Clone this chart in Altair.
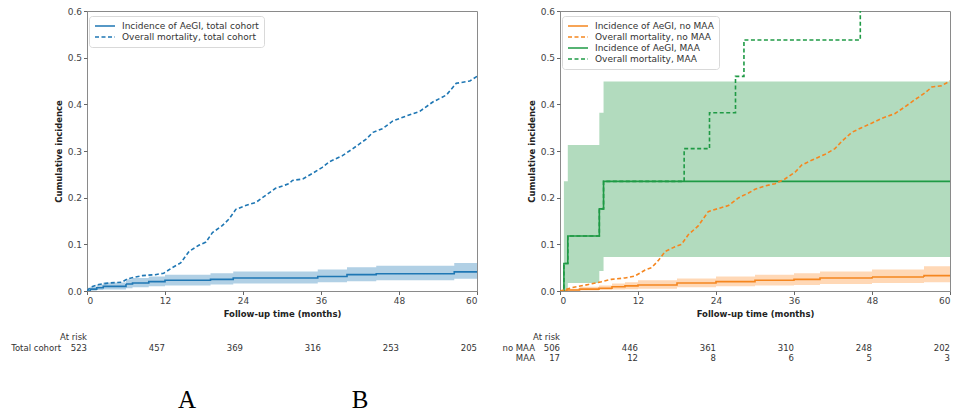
import altair as alt
import pandas as pd

# ---------------- Panel A (total cohort) ----------------
a_inc_t = [0, 0.5, 1.5, 2.5, 6.0, 7.0, 9.5, 12.0, 19.0, 22.5, 35.5, 40.0, 44.5, 56.5, 60]
a_inc_v = [0, 0.004, 0.007, 0.010, 0.015, 0.017, 0.020, 0.023, 0.025, 0.028, 0.031, 0.035, 0.037, 0.041, 0.041]
a_inc_lo = [0, 0.0005, 0.002, 0.003, 0.006, 0.008, 0.010, 0.012, 0.014, 0.016, 0.019, 0.021, 0.023, 0.026, 0.026]
a_inc_hi = [0, 0.009, 0.014, 0.018, 0.025, 0.028, 0.031, 0.035, 0.038, 0.042, 0.046, 0.051, 0.054, 0.060, 0.060]

a_mort_t = [0, 0.5, 1.8, 3.3, 5.4, 6.2, 8.5, 10.5, 11.8, 13.1, 14.4, 15.7, 17.2, 18.3, 19.3, 20.8,
            21.9, 22.9, 24.4, 26.0, 27.5, 29.0, 31.1, 31.6, 33.2, 34.7, 36.2, 37.3, 39.3, 40.9,
            42.9, 44.0, 45.5, 47.0, 49.1, 51.2, 53.2, 55.3, 56.8, 58.9, 60]
a_mort_v = [0, 0.008, 0.014, 0.017, 0.019, 0.026, 0.033, 0.035, 0.038, 0.050, 0.060, 0.085, 0.098,
            0.105, 0.125, 0.140, 0.155, 0.175, 0.183, 0.190, 0.205, 0.220, 0.230, 0.237, 0.240,
            0.252, 0.265, 0.277, 0.290, 0.305, 0.325, 0.340, 0.348, 0.364, 0.375, 0.385, 0.405,
            0.420, 0.445, 0.450, 0.460]

# ---------------- Panel B (no MAA vs MAA) ----------------
b_nm_inc_t = [0, 1, 3, 6, 8, 10, 12, 18, 24, 30, 36, 40, 48, 56, 60]
b_nm_inc_v = [0, 0.002, 0.004, 0.006, 0.009, 0.011, 0.013, 0.017, 0.020, 0.023, 0.025, 0.028, 0.030, 0.033, 0.033]
b_nm_inc_lo = [0, 0, 0.001, 0.002, 0.003, 0.004, 0.005, 0.008, 0.010, 0.012, 0.013, 0.015, 0.017, 0.019, 0.019]
b_nm_inc_hi = [0, 0.005, 0.009, 0.012, 0.016, 0.019, 0.023, 0.027, 0.031, 0.035, 0.038, 0.042, 0.046, 0.053, 0.053]

b_nm_mort_t = [0, 1.8, 4.4, 6.4, 7.9, 10, 11.5, 13.1, 14.1, 15.1, 16.2, 17.7, 18.7, 19.7, 21.3,
               22.8, 24.4, 25.9, 27.5, 29, 30, 31.5, 33.1, 34.6, 36.2, 37.2, 38.7, 40.8, 42.3,
               43.3, 44.9, 46.4, 48, 49.5, 51.5, 53.1, 54.6, 56.2, 57.2, 58.7, 60]
b_nm_mort_v = [0, 0.007, 0.014, 0.020, 0.025, 0.028, 0.032, 0.045, 0.050, 0.065, 0.085, 0.095,
               0.100, 0.120, 0.140, 0.170, 0.177, 0.183, 0.200, 0.210, 0.218, 0.225, 0.230, 0.240,
               0.255, 0.270, 0.280, 0.293, 0.305, 0.320, 0.340, 0.350, 0.360, 0.370, 0.380, 0.395,
               0.410, 0.425, 0.437, 0.440, 0.450]

b_m_inc_t = [0, 0.6, 1.2, 6.05, 6.7, 60]
b_m_inc_v = [0, 0.059, 0.118, 0.176, 0.235, 0.235]
b_m_inc_lo = [0, 0, 0.017, 0.043, 0.073, 0.073]
b_m_inc_hi = [0, 0.235, 0.313, 0.382, 0.449, 0.449]

b_m_mort_t = [0, 0.6, 1.2, 6.05, 6.7, 19.1, 23.0, 27.0, 28.3, 46.2, 60]
b_m_mort_v = [0, 0.059, 0.118, 0.176, 0.235, 0.305, 0.382, 0.460, 0.538, 0.650, 0.650]

# ---------------- At-risk tables ----------------
risk_t = [0, 12, 24, 36, 48, 60]
risk_total = [523, 457, 369, 316, 253, 205]
risk_nomaa = [506, 446, 361, 310, 248, 202]
risk_maa = [17, 12, 8, 6, 5, 3]

# ---------------- Series names / styles ----------------
A_SERIES = ["Incidence of AeGI, total cohort", "Overall mortality, total cohort"]
B_SERIES = ["Incidence of AeGI, no MAA", "Overall mortality, no MAA",
            "Incidence of AeGI, MAA", "Overall mortality, MAA"]
BLUE, ORANGE, GREEN = "#1f77b4", "#f5861f", "#1f9a45"
SOLID, DASH = [1, 0], [4, 2.5]

FONT = "DejaVu Sans"
W, H = 390, 280
RISK_FS = 8.5


def xenc(field):
    return alt.X(f"{field}:Q",
                 scale=alt.Scale(domain=[0, 60], nice=False, zero=False),
                 axis=alt.Axis(values=risk_t, format="d", title="Follow-up time (months)"))


def yenc(field):
    return alt.Y(f"{field}:Q",
                 scale=alt.Scale(domain=[0, 0.6], nice=False),
                 axis=alt.Axis(values=[0, 0.1, 0.2, 0.3, 0.4, 0.5, 0.6], format=".1f",
                               title="Cumulative incidence"))


def legend():
    # long horizontal stroke symbol (20px) that only takes an 8px layout box
    return alt.Legend(title=None, orient="none", legendX=2, legendY=5,
                      symbolType="M-2.5,0H2.5", symbolSize=64, symbolStrokeWidth=1.6,
                      symbolOffset=6,
                      labelFont=FONT, labelFontSize=9, labelColor="#333",
                      fillColor="white", strokeColor="#d9d9d9", padding=5,
                      rowPadding=1, labelOffset=12, cornerRadius=3)


def series_df(t, v, name):
    return pd.DataFrame({"t": t, "v": v, "series": name})


def band(t, lo, hi, color, op):
    df = pd.DataFrame({"t": t, "lo": lo, "hi": hi})
    return alt.Chart(df).mark_area(interpolate="step-after", color=color, opacity=op).encode(
        x=xenc("t"), y=yenc("lo"), y2="hi")


def lines(df, domain, colors, dashes, interp):
    return alt.Chart(df).mark_line(interpolate=interp, strokeWidth=1.6, clip=True).encode(
        x=xenc("t"), y=yenc("v"),
        color=alt.Color("series:N", scale=alt.Scale(domain=domain, range=colors), legend=legend()),
        strokeDash=alt.StrokeDash("series:N", scale=alt.Scale(domain=domain, range=dashes),
                                  legend=legend()))


def text_layer(df, y, align="right", size=RISK_FS, font=FONT, color="#333", xval=None):
    m = alt.Chart(df).mark_text(align=align, baseline="middle", fontSize=size, font=font, color=color)
    if xval is None:
        return m.encode(x=xenc("t"), y=alt.value(y), text="lab:N")
    return m.encode(x=alt.value(xval), y=alt.value(y), text="lab:N")


# ---------------- Panel A ----------------
a_cols = [BLUE, BLUE]
a_dash = [SOLID, DASH]
a_inc_df = series_df(a_inc_t, a_inc_v, A_SERIES[0])
a_mort_df = series_df(a_mort_t, a_mort_v, A_SERIES[1])

panelA = alt.layer(
    band(a_inc_t, a_inc_lo, a_inc_hi, BLUE, 0.35),
    lines(a_inc_df, A_SERIES, a_cols, a_dash, "step-after"),
    lines(a_mort_df, A_SERIES, a_cols, a_dash, "linear"),
    text_layer(pd.DataFrame({"t": [0], "lab": ["At risk"]}), 326),
    text_layer(pd.DataFrame({"lab": ["Total cohort"]}), 337, xval=-26),
    text_layer(pd.DataFrame({"t": risk_t, "lab": [str(n) for n in risk_total]}), 337),
    text_layer(pd.DataFrame({"t": [15.4, 42.0], "lab": ["A", "B"]}), 389, align="center",
               size=25, font="Liberation Serif", color="black"),
).properties(width=W, height=H)

# ---------------- Panel B ----------------
b_cols = [ORANGE, ORANGE, GREEN, GREEN]
b_dash = [SOLID, DASH, SOLID, DASH]
b_step_df = pd.concat([
    series_df(b_nm_inc_t, b_nm_inc_v, B_SERIES[0]),
    series_df(b_m_inc_t, b_m_inc_v, B_SERIES[2]),
    series_df(b_m_mort_t, b_m_mort_v, B_SERIES[3]),
])
b_lin_df = series_df(b_nm_mort_t, b_nm_mort_v, B_SERIES[1])

panelB = alt.layer(
    band(b_m_inc_t, b_m_inc_lo, b_m_inc_hi, "#2e9e4e", 0.37),
    band(b_nm_inc_t, b_nm_inc_lo, b_nm_inc_hi, "#ff7f0e", 0.3),
    lines(b_step_df, B_SERIES, b_cols, b_dash, "step-after"),
    lines(b_lin_df, B_SERIES, b_cols, b_dash, "linear"),
    text_layer(pd.DataFrame({"t": [0], "lab": ["At risk"]}), 326),
    text_layer(pd.DataFrame({"lab": ["no MAA"]}), 337, xval=-25),
    text_layer(pd.DataFrame({"lab": ["MAA"]}), 347, xval=-25),
    text_layer(pd.DataFrame({"t": risk_t, "lab": [str(n) for n in risk_nomaa]}), 337),
    text_layer(pd.DataFrame({"t": risk_t, "lab": [str(n) for n in risk_maa]}), 347),
).properties(width=W, height=H)

chart = alt.hconcat(panelA, panelB, spacing=24).resolve_scale(
    color="independent", strokeDash="independent"
).resolve_legend(
    color="independent", strokeDash="independent"
).properties(
    padding={"left": 2, "top": -2, "right": 0, "bottom": 0}
).configure_axis(
    labelFont=FONT, labelFontSize=9, labelColor="#444",
    titleFont=FONT, titleFontSize=8.5, titleFontWeight="bold", titleColor="#222",
    tickColor="#666", tickSize=3.5, domain=False, grid=False,
    labelPadding=2, titlePadding=4,
).configure_view(stroke="#8a8a8a", strokeWidth=1)

chart.save("out.html", embed_options={"renderer": "svg", "actions": False})
